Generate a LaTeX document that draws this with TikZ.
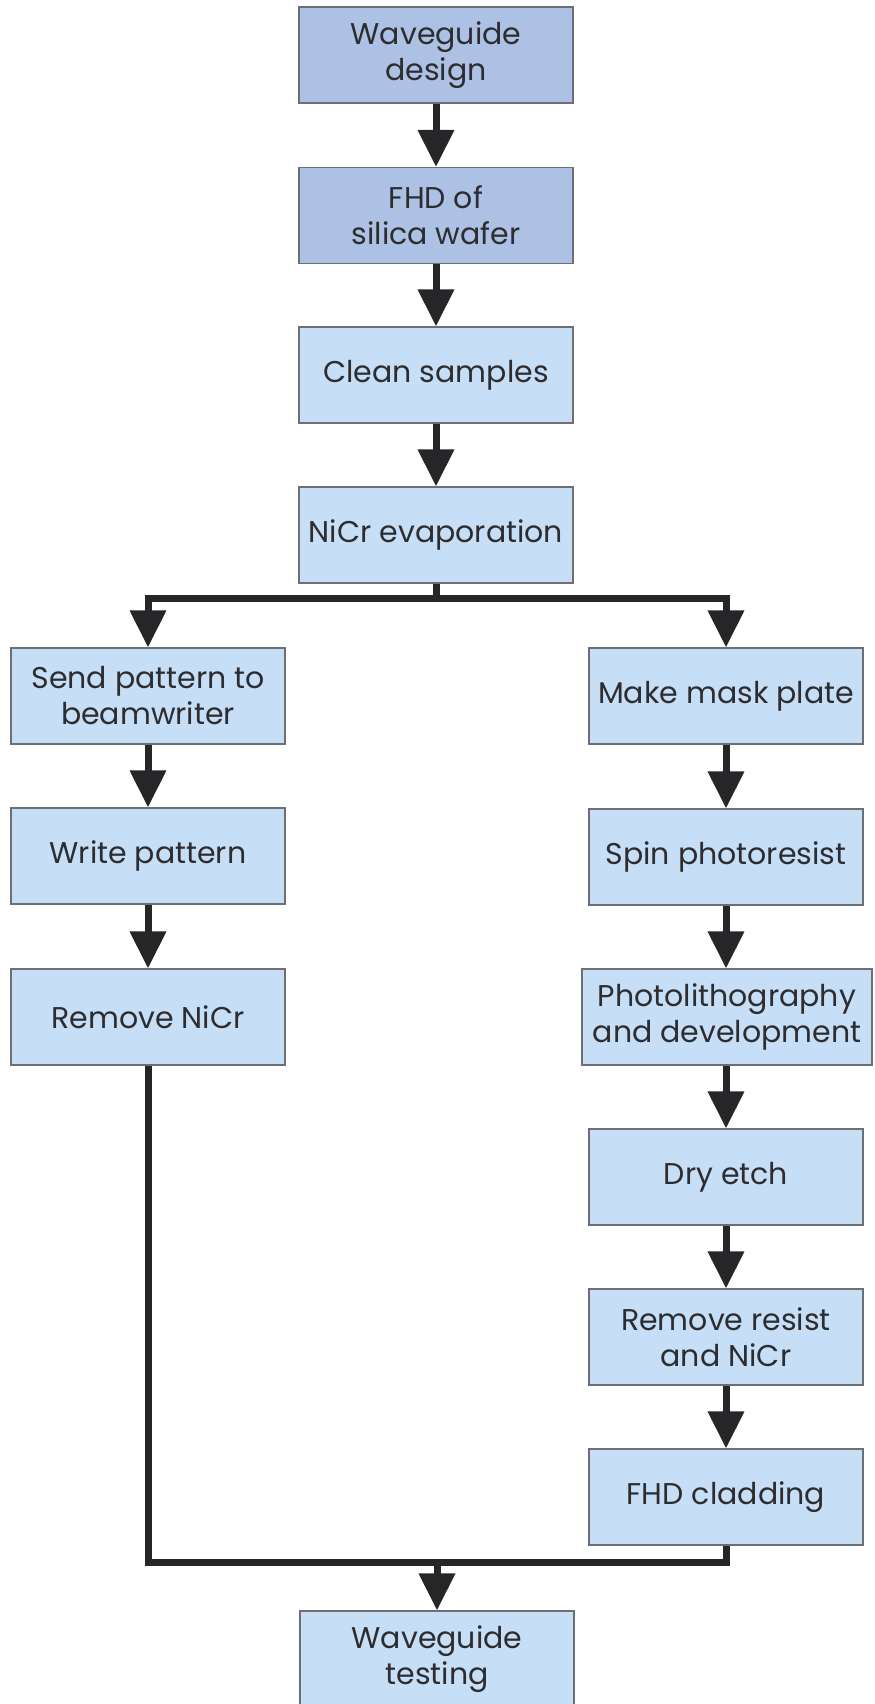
\documentclass[tikz,border=0pt]{standalone}
\usepackage{fontspec}
\setmainfont{Poppins}
\usetikzlibrary{arrows.meta}
\definecolor{darkfill}{RGB}{172,193,228}
\definecolor{lightfill}{RGB}{199,222,247}
\definecolor{boxline}{RGB}{110,110,115}
\definecolor{txt}{RGB}{45,45,48}
\definecolor{conn}{RGB}{38,38,40}
\begin{document}
\begin{tikzpicture}[x=0.5pt,y=-0.5pt,
  box/.style={draw=boxline, line width=0.6pt, fill=lightfill, text=txt,
    minimum width=137pt, minimum height=48pt, align=center, inner sep=0pt,
    font=\fontsize{15}{18}\selectfont},
  darkbox/.style={box, fill=darkfill},
  ln/.style={draw=conn, line width=3.5pt, line join=miter},
  arr/.style={ln, -{Triangle[width=17.5pt,length=18.5pt]}}]
\useasboundingbox (0,0) rectangle (874,1704);
% main column
\node[darkbox] (wd)    at (436,55)    {Waveguide\\design};
\node[darkbox] (fhd)   at (436,215.5) {FHD of\\silica wafer};
\node[box]     (clean) at (436,375)   {Clean samples};
\node[box]     (nicr)  at (436,535)   {NiCr evaporation};
% left column
\node[box] (send)  at (148,696)  {Send pattern to\\beamwriter};
\node[box] (write) at (148,856)  {Write pattern};
\node[box] (remn)  at (148,1017) {Remove NiCr};
% right column
\node[box] (mask)   at (726,696)  {Make mask plate};
\node[box] (spin)   at (726,857)  {Spin photoresist};
\node[box, minimum width=145pt] (photo) at (727,1017) {Photolithography\\and development};
\node[box] (dry)    at (726,1177) {Dry etch};
\node[box] (remres) at (726,1337) {Remove resist\\and NiCr};
\node[box] (clad)   at (726,1497) {FHD cladding};
% final
\node[box] (test) at (437,1659) {Waveguide\\testing};
% connectors
\coordinate (split) at (436,598);
\coordinate (merge) at (437,1562);
\draw[arr] (wd) -- (fhd);
\draw[arr] (fhd) -- (clean);
\draw[arr] (clean) -- (nicr);
\draw[ln] (nicr.south) -- (split);
\draw[arr] (split) -| (send.north);
\draw[arr] (split) -| (mask.north);
\draw[arr] (send) -- (write);
\draw[arr] (write) -- (remn);
\draw[arr] (mask) -- (spin);
\draw[arr] (spin) -- (spin |- photo.north);
\draw[arr] (photo.south -| dry) -- (dry);
\draw[arr] (dry) -- (remres);
\draw[arr] (remres) -- (clad);
\draw[ln] (remn.south) |- (clad.south |- merge) -- (clad.south);
\draw[arr] (merge) -- (test.north);
\end{tikzpicture}
\end{document}
